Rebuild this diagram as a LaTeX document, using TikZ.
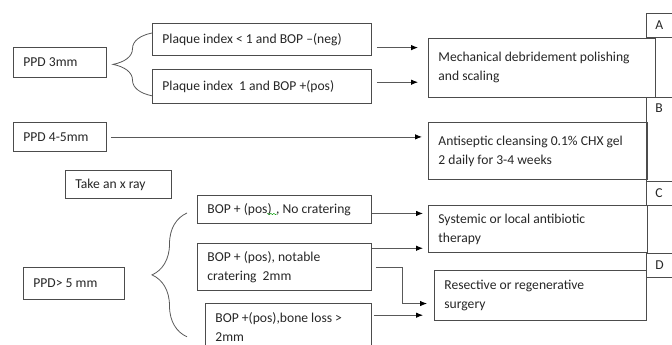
\documentclass[tikz,border=0pt]{standalone}
\usepackage{fontspec}
\setmainfont{Carlito}
\usetikzlibrary{arrows.meta,calc,decorations.pathreplacing,decorations.pathmorphing}

\begin{document}
\begin{tikzpicture}[x=1pt,y=-1pt,
  box/.style={draw=black!70, line width=0.8pt, anchor=north west, align=flush left,
    inner xsep=10pt, inner ysep=0pt, font=\fontsize{13.6}{19}\selectfont, text=black!85},
  tag/.style={box, inner xsep=9pt, minimum width=40pt, minimum height=24pt, text width=22pt},
  arr/.style={draw=black!65, line width=0.8pt, -{Latex[length=7pt,width=5.5pt,color=black]}},
  brc/.style={draw=black!65, line width=0.8pt, decorate, decoration={brace, amplitude=#1}}]
  \useasboundingbox (0,0) rectangle (672,345);
  \clip (0,0) rectangle (672,345);

  % left column
  \node[box, text width=73pt, minimum height=30pt] (ppd3) at (13,47) {PPD 3mm};
  \node[box, text width=73pt, minimum height=29pt] (ppd45) at (13,122) {PPD 4-5mm};
  \node[box, text width=86pt, minimum height=28pt] (xray) at (65,170) {Take an x ray};
  \node[box, text width=81pt, minimum height=32pt] (ppd5) at (23,267) {PPD> 5 mm};

  % conditions
  \node[box, text width=199pt, minimum height=32pt] (plq1) at (152,23) {Plaque index < 1 and BOP –(neg)};
  \node[box, text width=199pt, minimum height=34pt] (plq2) at (152,69) {Plaque index\ \ 1 and BOP +(pos)};
  \node[box, text width=154pt, minimum height=28pt] (bop1) at (197,195) {BOP + (pos)\,\,, No cratering};
  \node[box, text width=154pt, minimum height=47pt] (bop2) at (197,243) {BOP + (pos), notable\\cratering\ \ 2mm};
  \node[box, text width=146pt, minimum height=48pt] (bop3) at (205,303) {BOP +(pos),bone loss >\\2mm};

  % treatments
  \node[box, text width=207pt, minimum height=59pt] (mech) at (428,38) {Mechanical debridement polishing\\and scaling};
  \node[box, text width=199pt, minimum height=57pt] (anti) at (428,122) {Antiseptic cleansing 0.1\% CHX gel\\2 daily for 3-4 weeks};
  \node[box, text width=199pt, minimum height=47pt] (sys) at (428,205) {Systemic or local antibiotic\\therapy};
  \node[box, text width=192pt, minimum height=50pt] (res) at (434,270) {Resective or regenerative\\surgery};

  % letters
  \node[tag] (tagA) at (646,13) {A};
  \node[tag, minimum height=84pt, text depth=62pt] (tagB) at (646,97) {B};
  \node[tag] (tagC) at (646,181) {C};
  \node[tag] (tagD) at (646,253) {D};

  % braces
  \draw[brc=39pt] ($(plq2.south west)+(0,-8)$) -- ($(plq1.north west)+(0,10)$);
  \draw[brc=35pt] ($(bop3.south west)+(-18,-15)$) -- ($(bop1.north west)+(-10,18)$);

  % arrows
  \draw[arr, shorten <=5pt, shorten >=10pt] ($(plq1.north east)!.75!(plq1.south east)$) coordinate (s1) -- (mech.west |- s1);
  \draw[arr, shorten <=5pt, shorten >=10pt] ($(plq2.north east)!.38!(plq2.south east)$) coordinate (s2) -- (mech.west |- s2);
  \draw[arr, shorten <=4pt, shorten >=6pt] (ppd45.east) -- (anti.west |- ppd45.east);
  \draw[arr, shorten >=5pt] ($(bop1.north east)!.64!(bop1.south east)$) coordinate (s4) -- (sys.west |- s4);
  \draw[arr, shorten >=5pt] ($(bop2.north east)!.11!(bop2.south east)$) coordinate (s5) -- (sys.west |- s5);
  \draw[arr, shorten <=4pt, shorten >=7pt] (bop2.east) -- ++(31,0) |- ($(res.north west)!.66!(res.south west)$);
  \draw[arr, shorten <=2pt, shorten >=11pt] ($(bop3.north east)!.25!(bop3.south east)$) coordinate (s7) -- (res.west |- s7);

  % spell-check mark
  \draw[green!60!black, decorate, decoration={snake, amplitude=0.7pt, segment length=3pt}]
    ($(bop1.north west)+(70,19)$) -- ($(bop1.north west)+(80,19)$);
\end{tikzpicture}
\end{document}
